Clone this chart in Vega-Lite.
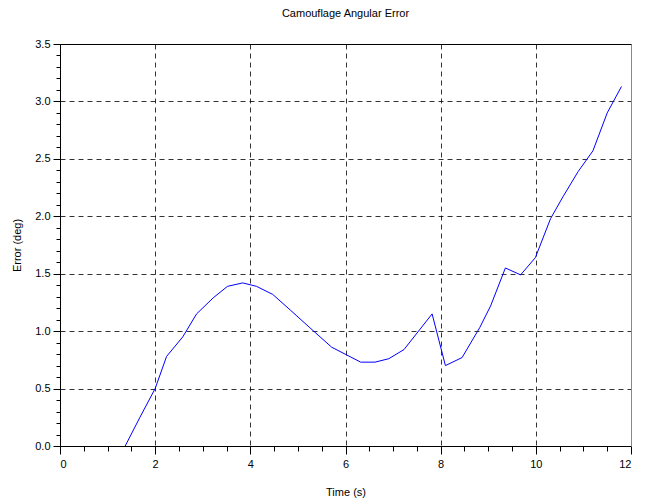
{
  "$schema": "https://vega.github.io/schema/vega-lite/v6.json",
  "width": 571,
  "height": 402,
  "autosize": "none",
  "padding": {"left": 60, "top": 44, "right": 25, "bottom": 56},
  "background": "white",
  "title": {"text": "Camouflage Angular Error", "font": "Liberation Sans", "fontSize": 11, "fontWeight": "normal", "color": "#000", "anchor": "middle", "offset": 19},
  "config": {
    "view": {"stroke": null},
    "axis": {"labelFont": "Liberation Sans", "labelFontSize": 11, "labelColor": "#000", "titleFont": "Liberation Sans", "titleFontSize": 11, "titleFontWeight": "normal", "titleColor": "#000", "domainColor": "#000", "tickColor": "#000", "gridColor": "#000", "gridOpacity": 0.8, "gridDash": [5, 4], "gridWidth": 1}
  },
  "data": {"values": [
    {"t": 1.37, "e": 0.0},
    {"t": 1.68, "e": 0.25},
    {"t": 2.0, "e": 0.5},
    {"t": 2.24, "e": 0.78},
    {"t": 2.58, "e": 0.95},
    {"t": 2.87, "e": 1.15},
    {"t": 3.22, "e": 1.29},
    {"t": 3.52, "e": 1.39},
    {"t": 3.84, "e": 1.42},
    {"t": 4.13, "e": 1.39},
    {"t": 4.47, "e": 1.32},
    {"t": 4.85, "e": 1.18},
    {"t": 5.25, "e": 1.03},
    {"t": 5.71, "e": 0.86},
    {"t": 6.32, "e": 0.73},
    {"t": 6.62, "e": 0.73},
    {"t": 6.91, "e": 0.76},
    {"t": 7.23, "e": 0.84},
    {"t": 7.82, "e": 1.15},
    {"t": 8.1, "e": 0.7},
    {"t": 8.45, "e": 0.77},
    {"t": 8.82, "e": 1.03},
    {"t": 9.05, "e": 1.22},
    {"t": 9.36, "e": 1.55},
    {"t": 9.68, "e": 1.49},
    {"t": 9.99, "e": 1.64},
    {"t": 10.31, "e": 1.98},
    {"t": 10.57, "e": 2.17},
    {"t": 10.89, "e": 2.39},
    {"t": 11.2, "e": 2.57},
    {"t": 11.5, "e": 2.9},
    {"t": 11.8, "e": 3.13}
  ]},
  "layer": [
    {
      "mark": {"type": "line", "opacity": 0},
      "encoding": {
        "x": {"field": "t", "type": "quantitative", "scale": {"domain": [0, 12], "nice": false},
          "axis": {"orient": "bottom", "values": [0.5, 1, 1.5, 2.5, 3, 3.5, 4.5, 5, 5.5, 6.5, 7, 7.5, 8.5, 9, 9.5, 10.5, 11, 11.5], "labels": false, "grid": false, "domain": false, "tickSize": 5, "title": null}},
        "y": {"field": "e", "type": "quantitative", "scale": {"domain": [0, 3.5], "nice": false},
          "axis": {"orient": "left", "values": [0.1, 0.2, 0.3, 0.4, 0.6, 0.7, 0.8, 0.9, 1.1, 1.2, 1.3, 1.4, 1.6, 1.7, 1.8, 1.9, 2.1, 2.2, 2.3, 2.4, 2.6, 2.7, 2.8, 2.9, 3.1, 3.2, 3.3, 3.4], "labels": false, "grid": false, "domain": false, "tickSize": 4, "title": null}}
      }
    },
    {
      "mark": {"type": "line", "opacity": 0},
      "encoding": {
        "x": {"field": "t", "type": "quantitative",
          "axis": {"orient": "top", "values": [], "labels": false, "ticks": false, "grid": false, "domain": true, "title": null}},
        "y": {"field": "e", "type": "quantitative",
          "axis": {"orient": "right", "values": [], "labels": false, "ticks": false, "grid": false, "domain": true, "domainColor": "#888", "title": null}}
      }
    },
    {
      "mark": {"type": "line", "color": "#0000ff", "strokeWidth": 1, "clip": true},
      "encoding": {
        "x": {"field": "t", "type": "quantitative",
          "axis": {"orient": "bottom", "values": [0, 2, 4, 6, 8, 10, 12], "format": "d", "tickSize": 8, "labelPadding": 4, "grid": true, "title": "Time (s)", "titlePadding": 17}},
        "y": {"field": "e", "type": "quantitative",
          "axis": {"orient": "left", "values": [0, 0.5, 1, 1.5, 2, 2.5, 3, 3.5], "format": ".1f", "tickSize": 7, "labelPadding": 3, "grid": true, "title": "Error (deg)", "titlePadding": 12}}
      }
    }
  ],
  "resolve": {"axis": {"x": "independent", "y": "independent"}}
}
